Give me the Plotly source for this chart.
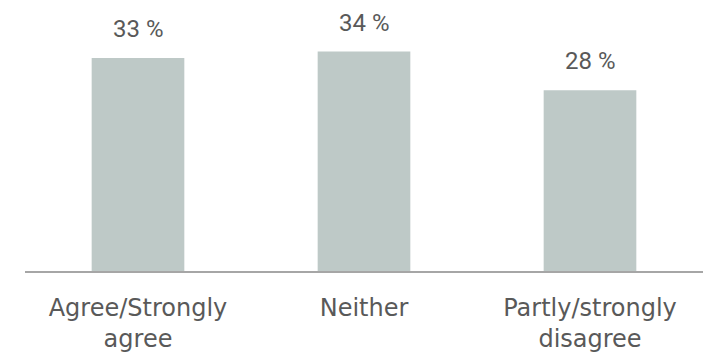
import plotly.graph_objects as go

categories = ["Agree/Strongly<br>agree", "Neither", "Partly/strongly<br>disagree"]
values = [33, 34, 28]
labels = ["33 %", "34 %", "28 %"]

fig = go.Figure()
fig.add_trace(go.Bar(
    x=categories, y=values,
    marker=dict(color="#bec9c7", line=dict(width=0)),
    width=0.41,
))
for c, v, t in zip(categories, values, labels):
    fig.add_annotation(x=c, y=v, text=t, showarrow=False, yanchor="bottom", yshift=13,
                       font=dict(family="Roboto", size=24, color="#595959"))

fig.update_layout(
    width=705, height=361,
    margin=dict(l=25, r=2, t=0, b=90),
    paper_bgcolor="white", plot_bgcolor="white",
    showlegend=False,
    xaxis=dict(showline=True, linecolor="#a6a6a6", linewidth=2, ticks="", showgrid=False,
               range=[-0.5, 2.5], ticklabelstandoff=14,
               tickfont=dict(family="DejaVu Sans", size=24, color="#595959")),
    yaxis=dict(visible=False, range=[0, 42]),
)
fig.write_html("out.html")
